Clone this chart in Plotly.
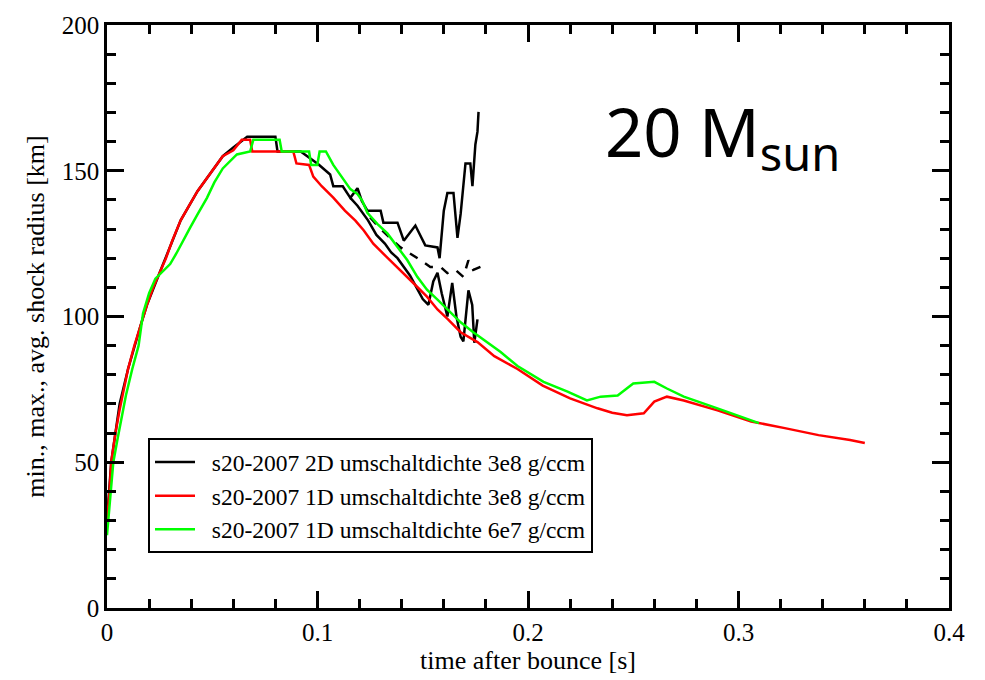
import plotly.graph_objects as go

# ---- data ----
t_red = [0, 0.001, 0.002, 0.003, 0.004, 0.006, 0.008, 0.010, 0.013, 0.016, 0.019, 0.022, 0.025, 0.028,
         0.031, 0.035, 0.039, 0.043, 0.047, 0.051, 0.055, 0.060, 0.064, 0.068, 0.069, 0.0885, 0.090,
         0.096, 0.098, 0.102, 0.1075, 0.113, 0.118, 0.122, 0.1265, 0.131, 0.136, 0.141, 0.1455, 0.152,
         0.157, 0.162, 0.168, 0.176, 0.184, 0.195, 0.207, 0.220, 0.233, 0.240, 0.247, 0.255, 0.260,
         0.266, 0.274, 0.290, 0.306, 0.322, 0.338, 0.353, 0.360]
r_red = [30, 38, 50, 55, 60, 68, 75, 82, 90, 97, 104, 110, 115, 120,
         126, 133, 138, 143, 147, 151, 155, 157, 160.6, 160.6, 156.6, 156.6, 152.5,
         152, 148, 144.7, 140.8, 136.3, 132.9, 129.5, 125, 121.7, 118.3, 114.9, 111.5, 106.8,
         102.4, 99, 94.6, 91.2, 86.4, 82, 76.3, 71.9, 68.5, 67, 66.1, 66.8, 70.8,
         72.5, 71.2, 67.8, 64, 61.7, 59.3, 57.6, 56.6]

t_green = [0, 0.001, 0.002, 0.003, 0.005, 0.007, 0.009, 0.012, 0.015, 0.0171, 0.020, 0.023, 0.026,
           0.030, 0.033, 0.036, 0.0395, 0.043, 0.0475, 0.051, 0.055, 0.0617, 0.068, 0.0695, 0.082,
           0.083, 0.096, 0.097, 0.0999, 0.101, 0.104, 0.1075, 0.112, 0.1156, 0.119, 0.1213, 0.1237,
           0.1284, 0.1332, 0.138, 0.1427, 0.1474, 0.152, 0.157, 0.1617, 0.168, 0.174, 0.1807, 0.187,
           0.195, 0.2074, 0.2188, 0.228, 0.2345, 0.2426, 0.250, 0.260, 0.266, 0.274, 0.290, 0.306,
           0.3097]
r_green = [25, 33, 42, 50, 58, 66, 73, 82, 90, 101, 108, 113, 115,
           118, 121.7, 126, 130.5, 135, 140.7, 146, 150.8, 155.6, 156.6, 160.6, 160.6,
           156.6, 156.6, 152, 152, 156.6, 156.6, 152, 147.5, 143.7, 142, 139.7, 135.6,
           131.8, 128.5, 123.7, 119.3, 113.6, 109.2, 105.8, 102.4, 98, 94.6, 91.2, 87.8,
           83, 77.6, 74.2, 71.2, 72.5, 72.9, 77, 77.6, 75.3, 72.5, 68.5, 64.4,
           63.4]

t_bmax = [0, 0.002, 0.006, 0.010, 0.016, 0.019, 0.025, 0.031, 0.035, 0.043, 0.051, 0.055, 0.060,
          0.0666, 0.080, 0.081, 0.092, 0.1004, 0.106, 0.1075, 0.112, 0.1156, 0.119, 0.121, 0.1237,
          0.13, 0.1313, 0.138, 0.141, 0.1465, 0.1512, 0.157, 0.158, 0.16, 0.1617, 0.1646, 0.1665,
          0.168, 0.1703, 0.1726, 0.1736, 0.175, 0.176, 0.1765]
r_bmax = [30, 50, 70, 82, 97, 104, 115, 126, 133, 143, 151, 155, 158,
          161.7, 161.7, 156.6, 156.6, 152.2, 148.7, 144.7, 144.7, 140.7, 144, 139.7, 136.3,
          136.3, 132.2, 132.2, 126, 131.2, 124.4, 123.7, 120, 136.3, 142.4, 142.4, 127,
          135.2, 152.5, 152.5, 144.7, 159, 163.4, 170.2]

t_bmin = [0.1156, 0.119, 0.124, 0.128, 0.132, 0.135, 0.138, 0.141, 0.144, 0.147, 0.150, 0.1527,
          0.155, 0.157, 0.159, 0.1617, 0.164, 0.166, 0.168, 0.1693, 0.1717, 0.1735, 0.1745, 0.176]
r_bmin = [140.7, 138, 133, 128, 125, 122, 120, 117, 114, 110, 106, 104,
          112, 115, 108, 100, 111.5, 100, 93, 91.5, 109, 104, 91, 99]

t_bavg = [0.125, 0.13, 0.1394, 0.144, 0.149, 0.1536, 0.1584, 0.1617, 0.1655, 0.1693, 0.1717,
          0.174, 0.1774]
r_bavg = [134, 130, 123.7, 121.7, 119.3, 117, 117, 114.9, 116, 113.6, 119.3, 116, 117]

names = ["s20-2007 2D umschaltdichte 3e8 g/ccm",
         "s20-2007 1D umschaltdichte 3e8 g/ccm",
         "s20-2007 1D umschaltdichte 6e7 g/ccm"]

SERIF = "Liberation Serif, Times New Roman, serif"
LW = 2.5
PAD = "\u00a0\u00a0"

fig = go.Figure()
fig.add_trace(go.Scatter(x=t_bmax, y=r_bmax, mode="lines", line=dict(color="black", width=LW),
                         name=PAD + names[0]))
fig.add_trace(go.Scatter(x=t_bmin, y=r_bmin, mode="lines", line=dict(color="black", width=LW),
                         showlegend=False))
fig.add_trace(go.Scatter(x=t_bavg, y=r_bavg, mode="lines",
                         line=dict(color="black", width=LW, dash="dash"), showlegend=False))
fig.add_trace(go.Scatter(x=t_red, y=r_red, mode="lines", line=dict(color="#ff0000", width=LW),
                         name=PAD + names[1]))
fig.add_trace(go.Scatter(x=t_green, y=r_green, mode="lines", line=dict(color="#00ff00", width=LW),
                         name=PAD + names[2]))

axis_common = dict(showgrid=False, zeroline=False, showline=True, linecolor="black", linewidth=2.5,
                   mirror="allticks", ticks="inside", ticklen=17, tickwidth=2.5, tickcolor="black",
                   tickfont=dict(family=SERIF, size=25, color="black"))

fig.update_xaxes(range=[0, 0.4], dtick=0.1, tick0=0,
                 minor=dict(dtick=0.02, ticklen=9, tickwidth=2.5, ticks="inside", tickcolor="black"),
                 title=dict(text="time after bounce [s]", font=dict(family=SERIF, size=26, color="black"),
                            standoff=4),
                 **axis_common)
fig.update_yaxes(range=[0, 200], dtick=50, tick0=0,
                 minor=dict(dtick=10, ticklen=9, tickwidth=2.5, ticks="inside", tickcolor="black"),
                 title=dict(text="min., max., avg. shock radius [km]",
                            font=dict(family=SERIF, size=26, color="black"), standoff=10),
                 **axis_common)

fig.add_annotation(text="20 M<sub>sun</sub>", xref="paper", yref="paper", x=0.589, y=0.812,
                   xanchor="left", yanchor="middle", showarrow=False,
                   font=dict(family="Noto Sans, Open Sans, sans-serif", size=67, color="black"))

fig.update_layout(
    width=985, height=680,
    margin=dict(l=107, r=36, t=22, b=68),
    plot_bgcolor="white", paper_bgcolor="white",
    legend=dict(x=0.0487, y=0.291, xanchor="left", yanchor="top",
                font=dict(family=SERIF, size=23.5, color="black"),
                bordercolor="black", borderwidth=2, bgcolor="white",
                itemwidth=40, tracegroupgap=0),
    showlegend=True,
)

fig.write_html("out.html")
